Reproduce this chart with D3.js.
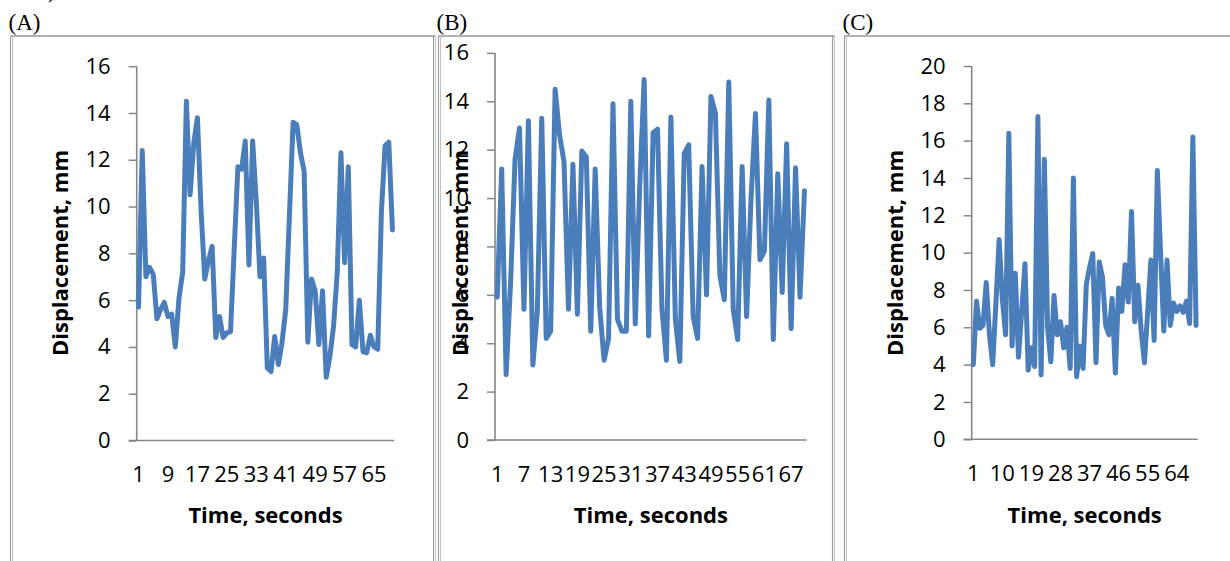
<!DOCTYPE html>
<html>
<head>
<meta charset="utf-8">
<script src="https://cdn.jsdelivr.net/npm/d3@7"></script>
<style>
  html, body { margin: 0; padding: 0; background: #fff; }
  svg { display: block; }
</style>
</head>
<body>
<div id="mainChart"></div>
<script>
// time axis: one sample per second, 70 samples in every panel
const seconds = d3.range(1, 71);

// displacement readings, mm
const dispA = [
  5.7, 12.4, 7.0, 7.4, 7.1, 5.2, 5.6, 5.9, 5.3, 5.4,
  4.0, 6.1, 7.2, 14.5, 10.5, 12.7, 13.8, 9.8, 6.9, 7.7,
  8.3, 4.4, 5.3, 4.4, 4.6, 4.65, 8.2, 11.7, 11.6, 12.8,
  7.5, 12.8, 10.2, 7.0, 7.8, 3.1, 2.95, 4.45, 3.25, 4.2,
  5.6, 9.6, 13.6, 13.5, 12.3, 11.5, 4.2, 6.9, 6.4, 4.1,
  6.4, 2.7, 3.6, 4.9, 7.2, 12.3, 7.6, 11.7, 4.1, 4.0,
  6.0, 3.8, 3.75, 4.5, 4.0, 3.9, 9.8, 12.6, 12.75, 9.0
];
const dispB = [
  5.9, 11.2, 2.7, 6.5, 11.6, 12.9, 5.4, 13.2, 3.1, 5.3,
  13.3, 4.2, 4.5, 14.5, 12.6, 11.5, 5.4, 11.4, 5.2, 11.95,
  11.7, 4.5, 11.2, 5.5, 3.3, 4.2, 13.9, 5.0, 4.5, 4.5,
  14.0, 4.8, 10.5, 14.9, 4.3, 12.7, 12.85, 5.4, 3.3, 13.35,
  5.0, 3.25, 11.85, 12.2, 5.1, 4.2, 11.3, 6.0, 14.2, 13.5,
  6.8, 5.8, 14.8, 5.4, 4.15, 11.3, 5.1, 10.0, 13.5, 7.45,
  7.8, 14.05, 4.15, 11.0, 6.1, 12.25, 4.6, 11.25, 5.9, 10.3
];
const dispC = [
  4.0, 7.4, 5.95, 6.1, 8.4, 5.6, 4.0, 7.3, 10.7, 7.5,
  5.6, 16.4, 5.0, 8.9, 4.4, 6.9, 9.4, 3.7, 4.9, 3.9,
  17.3, 3.45, 15.0, 6.0, 4.15, 7.7, 5.6, 6.3, 4.9, 6.0,
  3.8, 14.0, 3.35, 5.0, 3.8, 8.3, 9.2, 9.95, 4.1, 9.5,
  8.7, 6.1, 5.6, 7.55, 3.55, 8.1, 6.85, 9.35, 7.35, 12.2,
  6.3, 8.25, 5.8, 4.1, 6.8, 9.6, 5.3, 14.4, 10.0, 5.8,
  9.6, 6.1, 7.3, 6.85, 7.15, 6.8, 7.4, 6.2, 16.2, 6.1
];

// labelled categories and value ticks
const xTicksA = [1, 9, 17, 25, 33, 41, 49, 57, 65];
const xTicksB = [1, 7, 13, 19, 25, 31, 37, 43, 49, 55, 61, 67];
const xTicksC = [1, 10, 19, 28, 37, 46, 55, 64];
const yTicks16 = [0, 2, 4, 6, 8, 10, 12, 14, 16];
const yTicks20 = [0, 2, 4, 6, 8, 10, 12, 14, 16, 18, 20];

const panelNames = ['(A)', '(B)', '(C)'];
const xTitle = 'Time, seconds';
const yTitle = 'Displacement, mm';

const W = 1230, H = 561;
const LINE = '#4a7ebb';
const AXIS = '#868686';
const FRAME = '#9a9a9a';
const NUM_FONT = '"Open Sans", "DejaVu Sans", sans-serif';

const svg = d3.select('#mainChart')
  .append('svg')
  .attr('width', W)
  .attr('height', H);

// tail of a line of text above the figure
svg.append('text')
  .attr('x', 48).attr('y', -2)
  .style('font-family', '"Liberation Serif", serif')
  .style('font-size', '21px')
  .text(')');

const panels = [
  { name: panelNames[0], values: dispA, xTicks: xTicksA, yTicks: yTicks16,
    box: { left: 10.5, right: 433.5 },
    plot: { left: 136.7, right: 394.3, bottom: 440.5, top: 66.2 },
    yTitleX: 68 },
  { name: panelNames[1], values: dispB, xTicks: xTicksB, yTicks: yTicks16,
    box: { left: 438.5, right: 832.5 },
    plot: { left: 495, right: 806.7, bottom: 440, top: 52.9 },
    yTitleX: 468 },
  { name: panelNames[2], values: dispC, xTicks: xTicksC, yTicks: yTicks20,
    box: { left: 844.5, right: 1260 },
    plot: { left: 971.7, right: 1197.7, bottom: 439.3, top: 66 },
    yTitleX: 903 }
];

const BOX_TOP = 36;

panels.forEach(p => {
  const g = svg.append('g');

  // frame: single top edge, doubled side edges
  g.append('line')
    .attr('x1', p.box.left).attr('x2', Math.min(p.box.right + 2, W + 5))
    .attr('y1', BOX_TOP).attr('y2', BOX_TOP)
    .attr('stroke', FRAME).attr('stroke-width', 1.6);
  [p.box.left, p.box.left + 2, p.box.right, p.box.right + 2].forEach((bx, k) => {
    g.append('line')
      .attr('x1', bx).attr('x2', bx)
      .attr('y1', BOX_TOP).attr('y2', H + 5)
      .attr('stroke', k % 2 ? '#c4c4c4' : FRAME)
      .attr('stroke-width', 1.1);
  });

  g.append('text')
    .attr('x', p.box.left - 2)
    .attr('y', 30)
    .style('font-family', '"Liberation Serif", "Times New Roman", serif')
    .style('font-size', '23px')
    .text(p.name);

  const x = d3.scaleBand()
    .domain(seconds)
    .range([p.plot.left, p.plot.right])
    .padding(0);
  const y = d3.scaleLinear()
    .domain([0, d3.max(p.yTicks)])
    .range([p.plot.bottom, p.plot.top]);

  // value axis
  const yAxis = g.append('g')
    .attr('transform', `translate(${p.plot.left},0)`)
    .call(d3.axisLeft(y).tickValues(p.yTicks).tickSize(8).tickPadding(18).tickSizeOuter(0));
  yAxis.select('.domain').remove();
  yAxis.selectAll('line').attr('stroke', AXIS).attr('stroke-width', 1.5);
  yAxis.selectAll('text')
    .style('font-family', NUM_FONT)
    .style('font-size', '22px')
    .attr('fill', '#000');

  // category axis
  const xAxis = g.append('g')
    .attr('transform', `translate(0,${p.plot.bottom})`)
    .call(d3.axisBottom(x).tickValues(p.xTicks).tickSize(0).tickPadding(26));
  xAxis.select('.domain').remove();
  xAxis.selectAll('text')
    .style('font-family', NUM_FONT)
    .style('font-size', '22px')
    .attr('fill', '#000');

  // axis lines
  g.append('line')
    .attr('x1', p.plot.left).attr('x2', p.plot.left)
    .attr('y1', y(d3.max(p.yTicks))).attr('y2', p.plot.bottom)
    .attr('stroke', AXIS).attr('stroke-width', 1.6);
  g.append('line')
    .attr('x1', p.plot.left - 8).attr('x2', p.plot.right)
    .attr('y1', p.plot.bottom).attr('y2', p.plot.bottom)
    .attr('stroke', AXIS).attr('stroke-width', 1.6);

  // axis titles
  g.append('text')
    .attr('x', (p.plot.left + p.plot.right) / 2)
    .attr('y', 523)
    .attr('text-anchor', 'middle')
    .style('font-family', NUM_FONT)
    .style('font-weight', 'bold')
    .style('font-size', '22px')
    .text(xTitle);
  g.append('text')
    .attr('transform', `translate(${p.yTitleX},253) rotate(-90)`)
    .attr('text-anchor', 'middle')
    .style('font-family', NUM_FONT)
    .style('font-weight', 'bold')
    .style('font-size', '22px')
    .text(yTitle);

  // series
  const line = d3.line()
    .x((d, i) => x(seconds[i]) + x.bandwidth() / 2)
    .y(d => y(d));
  g.append('path')
    .datum(p.values)
    .attr('d', line)
    .attr('fill', 'none')
    .attr('stroke', LINE)
    .attr('stroke-width', 5)
    .attr('stroke-linejoin', 'round')
    .attr('stroke-linecap', 'round');
});
</script>
</body>
</html>
